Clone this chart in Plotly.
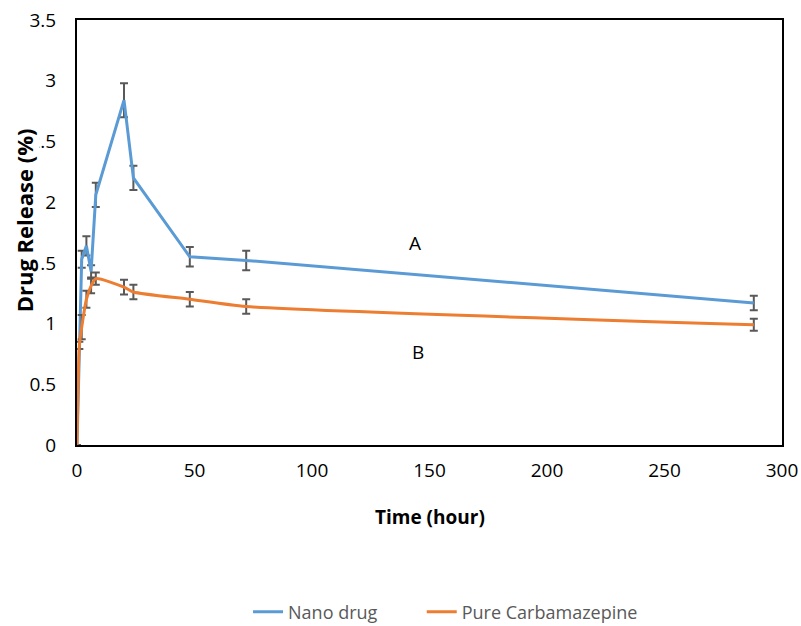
import plotly.graph_objects as go

# Data
nano_time = [0, 2, 4, 6, 8, 20, 24, 48, 72, 288]
nano_release = [0, 1.53, 1.64, 1.43, 2.06, 2.84, 2.20, 1.55, 1.52, 1.17]
nano_err = [0, 0.07, 0.08, 0.05, 0.10, 0.14, 0.10, 0.08, 0.08, 0.06]

pure_time = [0, 1, 2, 4, 6, 8, 20, 24, 48, 72, 288]
pure_release = [0, 0.82, 0.97, 1.20, 1.31, 1.37, 1.30, 1.26, 1.20, 1.14, 0.99]
pure_err = [0, 0.03, 0.10, 0.07, 0.06, 0.05, 0.06, 0.06, 0.06, 0.06, 0.05]

x_ticks = [0, 50, 100, 150, 200, 250, 300]
y_ticks = [0, 0.5, 1, 1.5, 2, 2.5, 3, 3.5]

labels = [("A", 144, 1.66), ("B", 145, 0.77)]

FONT = "'Open Sans', sans-serif"
ERR_COLOR = "#595959"

fig = go.Figure()
fig.add_trace(go.Scatter(
    x=nano_time, y=nano_release, name="Nano drug", mode="lines",
    line=dict(color="#5B9BD5", width=3), legend="legend",
    error_y=dict(type="data", array=nano_err, color=ERR_COLOR, thickness=2, width=4),
))
fig.add_trace(go.Scatter(
    x=pure_time, y=pure_release, name="Pure Carbamazepine", mode="lines",
    line=dict(color="#ED7D31", width=3, shape="spline", smoothing=0.6), legend="legend2",
    error_y=dict(type="data", array=pure_err, color=ERR_COLOR, thickness=2, width=4),
))

for txt, xv, yv in labels:
    fig.add_annotation(x=xv, y=yv, text=txt, showarrow=False,
                       font=dict(family=FONT, size=19, color="#000000"))

fig.add_annotation(xref="paper", yref="paper", x=-0.075, y=0.529,
                   xanchor="center", yanchor="middle",
                   text="<b>Drug Release (%)</b>", textangle=-90, showarrow=False,
                   bgcolor="white", borderpad=0,
                   font=dict(family=FONT, size=22, color="#000000"))

fig.add_annotation(xref="paper", yref="paper", x=0.5, y=-0.169, yanchor="middle",
                   text="<b>Time (hour)</b>", showarrow=False,
                   font=dict(family=FONT, size=19, color="#000000"))

legend_style = dict(orientation="h", xanchor="left", y=-0.393, yanchor="middle",
                    font=dict(family=FONT, size=18, color="#595959"),
                    bgcolor="rgba(0,0,0,0)")

fig.update_layout(
    width=801, height=626,
    paper_bgcolor="white", plot_bgcolor="white",
    margin=dict(l=77, r=19, t=20, b=181, autoexpand=False),
    font=dict(family=FONT, size=19, color="#000000"),
    showlegend=True,
    legend=dict(x=0.2426, **legend_style),
    legend2=dict(x=0.489, **legend_style),
    xaxis=dict(range=[0, 300], tickvals=x_ticks, showgrid=False, zeroline=False,
               showline=True, mirror=True, linecolor="#000000", linewidth=2,
               ticks="", tickfont=dict(size=19), automargin=False,
               ticklabelstandoff=7),
    yaxis=dict(range=[0, 3.5], tickvals=y_ticks, showgrid=False, zeroline=False,
               showline=True, mirror=True, linecolor="#000000", linewidth=2,
               ticks="", tickfont=dict(size=19), automargin=False,
               ticklabelstandoff=15),
)

fig.write_html("out.html", config={"displayModeBar": False})

# remove the browser's default page margin so the figure sits at the top-left corner
with open("out.html", "r", encoding="utf-8") as f:
    html = f.read()
html = html.replace("<body>", '<body style="margin:0;padding:0;overflow:hidden">', 1)
with open("out.html", "w", encoding="utf-8") as f:
    f.write(html)
